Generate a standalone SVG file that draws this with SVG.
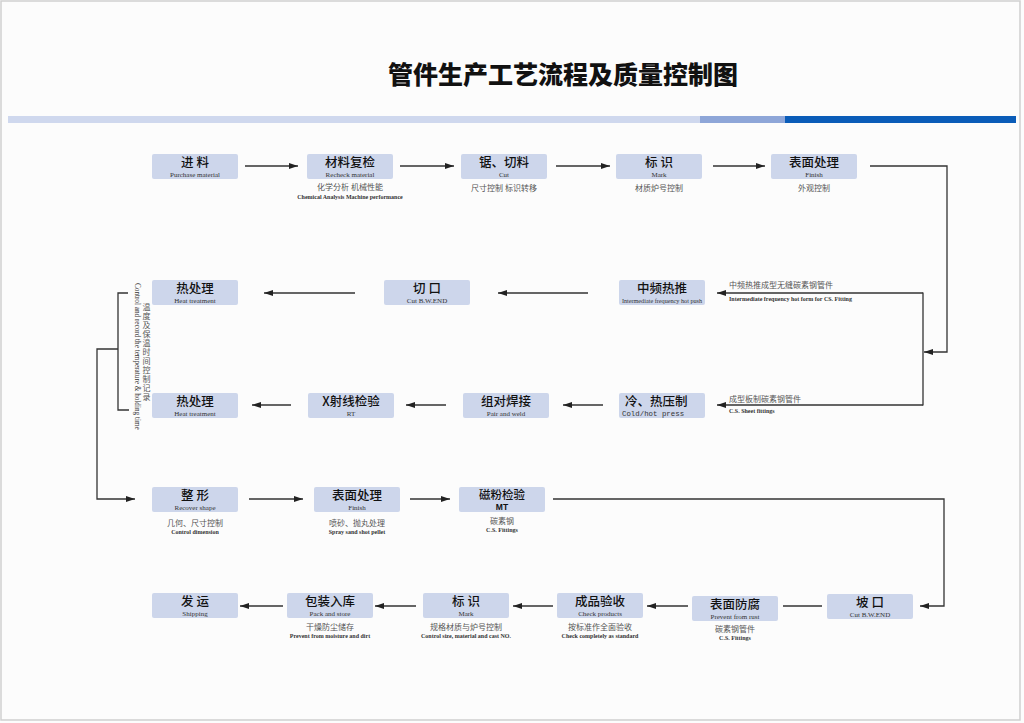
<svg xmlns="http://www.w3.org/2000/svg" width="1024" height="723" viewBox="0 0 1024 723">
<style>
.box{fill:#cdd6eb}
.t{font-family:"Noto Sans CJK SC",sans-serif;font-size:12.5px;font-weight:500;fill:#111;text-anchor:middle}
.e{font-family:"Liberation Serif",serif;font-size:7px;fill:#333;text-anchor:middle}
.sc{font-family:"Noto Sans CJK SC",sans-serif;font-size:8px;fill:#555;text-anchor:middle}
.se{font-family:"Liberation Serif",serif;font-size:6px;font-weight:bold;fill:#333;text-anchor:middle}
.sl{font-family:"Noto Sans CJK SC",sans-serif;font-size:8px;fill:#555}
.sle{font-family:"Liberation Serif",serif;font-size:6px;font-weight:bold;fill:#333}
.vc{font-family:"Noto Sans CJK SC",sans-serif;font-size:8px;fill:#555;text-anchor:middle}
.ln{stroke:#333;stroke-width:1.3;fill:none}
.a{marker-end:url(#ah)}
</style>
<defs>
<marker id="ah" markerUnits="userSpaceOnUse" markerWidth="9" markerHeight="6" refX="9" refY="3" orient="auto">
<path d="M0,0 L9,3 L0,6 z" fill="#222"/>
</marker>
</defs>
<rect x="0" y="0" width="1024" height="723" fill="#fcfcfc"/>
<rect x="1" y="1" width="1019" height="719" fill="none" stroke="#cfcfcf" stroke-width="1.5"/>
<g id="header">
<text x="563" y="84" font-family="'Noto Sans CJK SC',sans-serif" font-size="25" font-weight="900" fill="#111" text-anchor="middle">管件生产工艺流程及质量控制图</text>
<rect x="8" y="116" width="692" height="7" fill="#cfd8ee"/>
<rect x="700" y="116" width="85" height="7" fill="#8ea6d8"/>
<rect x="785" y="116" width="231" height="7" fill="#0a5cb8"/>
</g>
<g id="connectors">
<line class="ln a" x1="245" y1="166" x2="298" y2="166"/>
<line class="ln a" x1="400" y1="166" x2="454" y2="166"/>
<line class="ln a" x1="556" y1="166" x2="610" y2="166"/>
<line class="ln a" x1="713" y1="166" x2="765" y2="166"/>
<path class="ln a" d="M870,166 H947 V352 H924"/>
<line class="ln" x1="923" y1="292.5" x2="923" y2="405.5"/>
<line class="ln a" x1="923" y1="293" x2="717" y2="293"/>
<line class="ln a" x1="923" y1="405" x2="717" y2="405"/>
<line class="ln a" x1="588" y1="293" x2="498" y2="293"/>
<line class="ln a" x1="355" y1="293" x2="264" y2="293"/>
<line class="ln a" x1="603" y1="405" x2="563" y2="405"/>
<line class="ln a" x1="446" y1="405" x2="406" y2="405"/>
<line class="ln a" x1="291" y1="405" x2="252" y2="405"/>
<path class="ln" d="M128,293 H118 V410 H129"/>
<path class="ln a" d="M118,349 H97 V499 H135"/>
<line class="ln a" x1="249" y1="499" x2="303" y2="499"/>
<line class="ln a" x1="410" y1="499" x2="450" y2="499"/>
<path class="ln a" d="M553,499 H944 V606 H920"/>
<line class="ln" x1="783" y1="606" x2="822" y2="606"/>
<line class="ln a" x1="688" y1="606" x2="647" y2="606"/>
<line class="ln a" x1="553" y1="606" x2="513" y2="606"/>
<line class="ln a" x1="416" y1="606" x2="375" y2="606"/>
<line class="ln a" x1="283" y1="606" x2="240" y2="606"/>
</g>
<g id="n1"><rect class="box" x="152" y="154" width="86" height="25" rx="2"/><text class="t" x="195" y="166.5">进 料</text><text class="e" x="195" y="176.6">Purchase material</text></g>
<g id="n2"><rect class="box" x="307" y="154" width="86" height="25" rx="2"/><text class="t" x="350" y="166.5">材料复检</text><text class="e" x="350" y="176.6">Recheck material</text>
<text class="sc" x="350" y="190">化学分析  机械性能</text><text class="se" x="350" y="198.5">Chemical  Analysis  Machine performance</text></g>
<g id="n3"><rect class="box" x="461" y="154" width="86" height="25" rx="2"/><text class="t" x="504" y="166.5">锯、切料</text><text class="e" x="504" y="176.6">Cut</text>
<text class="sc" x="504" y="191">尺寸控制  标识转移</text></g>
<g id="n4"><rect class="box" x="616" y="154" width="86" height="25" rx="2"/><text class="t" x="659" y="166.5">标 识</text><text class="e" x="659" y="176.6">Mark</text>
<text class="sc" x="659" y="191">材质炉号控制</text></g>
<g id="n5"><rect class="box" x="771" y="154" width="86" height="25" rx="2"/><text class="t" x="814" y="166.5">表面处理</text><text class="e" x="814" y="176.6">Finish</text>
<text class="sc" x="814" y="191">外观控制</text></g>
<g id="lbl-right">
<text class="sl" x="729" y="288">中频热推成型无缝碳素钢管件</text>
<text class="sle" x="729" y="300.5">Intermediate frequency hot form for CS. Fitting</text>
<text class="sl" x="729" y="402">成型板制碳素钢管件</text>
<text class="sle" x="729" y="412.5">C.S. Sheet fittings</text>
</g>
<g id="n6"><rect class="box" x="619" y="280" width="86" height="25" rx="2"/><text class="t" x="662" y="292.5">中频热推</text><text class="e" x="662" y="302.6" style="font-size:6.2px">Intermediate frequency  hot push</text></g>
<g id="n7"><rect class="box" x="384" y="280" width="86" height="25" rx="2"/><text class="t" x="427" y="292.5">切 口</text><text class="e" x="427" y="302.6">Cut B.W.END</text></g>
<g id="n8"><rect class="box" x="152" y="280" width="86" height="25" rx="2"/><text class="t" x="195" y="292.5">热处理</text><text class="e" x="195" y="302.6">Heat treatment</text></g>
<g id="n9"><rect class="box" x="619" y="393" width="86" height="25" rx="2"/><text class="t" x="625" y="405.5" style="text-anchor:start">冷、热压制</text><text x="622" y="415.6" font-family="'Liberation Mono',monospace" font-size="7.4" fill="#333">Cold/hot press</text></g>
<g id="n10"><rect class="box" x="463" y="393" width="86" height="25" rx="2"/><text class="t" x="506" y="405.5">组对焊接</text><text class="e" x="506" y="415.6">Pair and weld</text></g>
<g id="n11"><rect class="box" x="308" y="393" width="86" height="25" rx="2"/><text class="t" x="351" y="405.5">X射线检验</text><text class="e" x="351" y="415.6">RT</text></g>
<g id="n12"><rect class="box" x="152" y="393" width="86" height="25" rx="2"/><text class="t" x="195" y="405.5">热处理</text><text class="e" x="195" y="415.6">Heat treatment</text></g>
<g id="lbl-left">
<text x="135" y="283" transform="rotate(90 135 283)" font-family="'Liberation Serif',serif" font-size="7.2" fill="#333">Control and record the temperature &amp; holding time</text>
<text class="vc"><tspan x="146.5" y="310">温</tspan><tspan x="146.5" y="319">度</tspan><tspan x="146.5" y="328">及</tspan><tspan x="146.5" y="337">保</tspan><tspan x="146.5" y="346">温</tspan><tspan x="146.5" y="355">时</tspan><tspan x="146.5" y="364">间</tspan><tspan x="146.5" y="373">控</tspan><tspan x="146.5" y="382">制</tspan><tspan x="146.5" y="391">记</tspan><tspan x="146.5" y="400">录</tspan></text>
</g>
<g id="n13"><rect class="box" x="152" y="487" width="86" height="25" rx="2"/><text class="t" x="195" y="499.5">整 形</text><text class="e" x="195" y="509.6">Recover shape</text>
<text class="sc" x="195" y="526">几何、尺寸控制</text><text class="se" x="195" y="533.5">Control dimension</text></g>
<g id="n14"><rect class="box" x="314" y="487" width="86" height="25" rx="2"/><text class="t" x="357" y="499.5">表面处理</text><text class="e" x="357" y="509.6">Finish</text>
<text class="sc" x="357" y="526">喷砂、抛丸处理</text><text class="se" x="357" y="533.5">Spray sand shot pellet</text></g>
<g id="n15"><rect class="box" x="459" y="487" width="86" height="25" rx="2"/><text class="t" x="502" y="498.5" style="font-size:11.5px">磁粉检验</text><text x="502" y="510" font-family="'Liberation Sans',sans-serif" font-size="8.5" font-weight="bold" fill="#111" text-anchor="middle">MT</text>
<text class="sc" x="502" y="524">碳素钢</text><text class="se" x="502" y="531.5">C.S. Fittings</text></g>
<g id="n16"><rect class="box" x="827" y="594" width="86" height="25" rx="2"/><text class="t" x="870" y="606.5">坡 口</text><text class="e" x="870" y="616.6">Cut B.W.END</text></g>
<g id="n17"><rect class="box" x="692" y="596" width="86" height="25" rx="2"/><text class="t" x="735" y="608.5">表面防腐</text><text class="e" x="735" y="618.6">Prevent from rust</text>
<text class="sc" x="735" y="632">碳素钢管件</text><text class="se" x="735" y="639.5">C.S. Fittings</text></g>
<g id="n18"><rect class="box" x="557" y="593" width="86" height="25" rx="2"/><text class="t" x="600" y="605.5">成品验收</text><text class="e" x="600" y="615.6">Check products</text>
<text class="sc" x="600" y="630">按标准作全面验收</text><text class="se" x="600" y="637.5">Check completely as standard</text></g>
<g id="n19"><rect class="box" x="423" y="593" width="86" height="25" rx="2"/><text class="t" x="466" y="605.5">标 识</text><text class="e" x="466" y="615.6">Mark</text>
<text class="sc" x="466" y="630">规格材质与炉号控制</text><text class="se" x="466" y="637.5">Control size,    material and cast NO.</text></g>
<g id="n20"><rect class="box" x="287" y="593" width="86" height="25" rx="2"/><text class="t" x="330" y="605.5">包装入库</text><text class="e" x="330" y="615.6">Pack and store</text>
<text class="sc" x="330" y="630">干燥防尘储存</text><text class="se" x="330" y="637.5">Prevent from moisture and dirt</text></g>
<g id="n21"><rect class="box" x="152" y="593" width="86" height="25" rx="2"/><text class="t" x="195" y="605.5">发 运</text><text class="e" x="195" y="615.6">Shipping</text></g>
</svg>
